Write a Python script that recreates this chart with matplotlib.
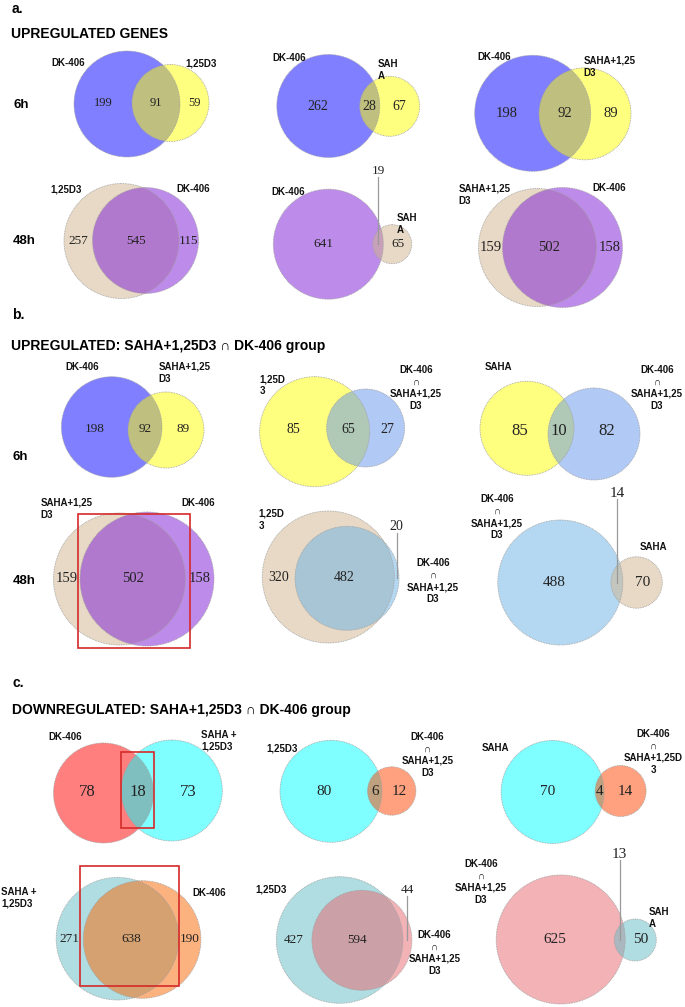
import matplotlib
matplotlib.use("Agg")
import matplotlib.pyplot as plt
from matplotlib.patches import Circle, Rectangle

# ---------------- data ----------------
panel_letters = ["a.", "b.", "c."]
panel_titles = ["UPREGULATED GENES",
                "UPREGULATED: SAHA+1,25D3 \u2229 DK-406 group",
                "DOWNREGULATED: SAHA+1,25D3 \u2229 DK-406 group"]
row_labels = ["6h", "48h"]

# set names (left, right) for each diagram, as printed
a_6h_sets = [("DK-406", "1,25D3"), ("DK-406", "SAH\nA"), ("DK-406", "SAHA+1,25\nD3")]
a_48h_sets = [("1,25D3", "DK-406"), ("DK-406", "SAH\nA"), ("SAHA+1,25\nD3", "DK-406")]
b_6h_sets = [("DK-406", "SAHA+1,25\nD3"), ("1,25D\n3", "DK-406\n\u2229\nSAHA+1,25\nD3"),
             ("SAHA", "DK-406\n\u2229\nSAHA+1,25\nD3")]
b_48h_sets = [("SAHA+1,25\nD3", "DK-406"), ("1,25D\n3", "DK-406\n\u2229\nSAHA+1,25\nD3"),
              ("DK-406\n\u2229\nSAHA+1,25\nD3", "SAHA")]
c_top_sets = [("DK-406", "SAHA +\n1,25D3"), ("1,25D3", "DK-406\n\u2229\nSAHA+1,25\nD3"),
              ("SAHA", "DK-406\n\u2229\nSAHA+1,25D\n3")]
c_bot_sets = [("SAHA +\n1,25D3", "DK-406"), ("1,25D3", "DK-406\n\u2229\nSAHA+1,25\nD3"),
              ("DK-406\n\u2229\nSAHA+1,25\nD3", "SAH\nA")]

# counts: (left only, overlap, right only)
a_6h_counts = [(199, 91, 59), (262, 28, 67), (198, 92, 89)]
a_48h_counts = [(257, 545, 115), (641, 19, 65), (159, 502, 158)]
b_6h_counts = [(198, 92, 89), (85, 65, 27), (85, 10, 82)]
b_48h_counts = [(159, 502, 158), (320, 482, 20), (488, 14, 70)]
c_top_counts = [(78, 18, 73), (80, 6, 12), (70, 4, 14)]
c_bot_counts = [(271, 638, 190), (427, 594, 44), (625, 13, 50)]

# ---------------- layout / style ----------------
BLUE = (0, 0, 1); YEL = (1, 1, 0); PURP = (0.49, 0.1, 0.84); TAN = (0.82, 0.71, 0.55)
CORN = (0.39, 0.58, 0.93); SKY = (0.42, 0.7, 0.9); CYAN = (0, 1, 1); RED = (1, 0, 0)
ORED = (1, 0.27, 0); TEAL = (0.39, 0.74, 0.78); ORNG = (0.98, 0.4, 0); PINK = (0.9, 0.4, 0.43)

# per diagram: left circle, right circle, colors, number size, label positions,
# optional leader for a small region and optional nudges of the count texts
layout = {
    "a6": [
        dict(L=(127, 104, 53), R=(170.5, 103, 38.5), col=(BLUE, YEL), fs=9,
             lab=[(68, 63, "center"), (201, 64, "center")]),
        dict(L=(328.3, 106, 51.5), R=(389.7, 106.3, 30), col=(BLUE, YEL), fs=10,
             lab=[(289, 58, "center"), (377.3, 70.3, "left")]),
        dict(L=(532.7, 113.3, 58), R=(585, 113.8, 46), col=(BLUE, YEL), fs=10.5,
             lab=[(493.7, 57.3, "center"), (583.3, 66.7, "left")]),
    ],
    "a48": [
        dict(L=(121.5, 241, 57.5), R=(145.5, 240.5, 53), col=(TAN, PURP), fs=9.5,
             lab=[(66.3, 189.3, "center"), (193.3, 189.3, "center")]),
        dict(L=(328.3, 244.2, 55), R=(392.2, 244.2, 19.5), col=(PURP, TAN), fs=9.5,
             lab=[(288, 191.7, "center"), (396.7, 224.2, "left")], leader=(1, 170.7)),
        dict(L=(537.5, 247.5, 59), R=(562.5, 247.5, 60), col=(TAN, PURP), fs=10.5,
             lab=[(458.3, 194.5, "left"), (609.2, 188.3, "center")]),
    ],
    "b6": [
        dict(L=(111.7, 427, 50.3), R=(166, 430, 38), col=(BLUE, YEL), fs=9.5,
             lab=[(82, 367.3, "center"), (158.8, 372.8, "left")]),
        dict(L=(314.6, 431.7, 55), R=(365.6, 428, 39), col=(YEL, CORN), fs=10,
             lab=[(259.6, 385.5, "left"), (415.8, 388, "center")]),
        dict(L=(527, 428.3, 47), R=(594, 434, 46), col=(YEL, CORN), fs=12,
             lab=[(484.6, 367.3, "left"), (657, 388, "center")], dx=(6, -2, 0)),
    ],
    "b48": [
        dict(L=(119.5, 579, 66), R=(147, 579, 67), col=(TAN, PURP), fs=10.5,
             lab=[(40.4, 508.8, "left"), (198.2, 502.7, "center")]),
        dict(L=(328.3, 577, 66), R=(347, 578.3, 52), col=(TAN, SKY), fs=10,
             lab=[(258.8, 520, "left"), (433, 581, "center")], leader=(2, 526.7)),
        dict(L=(560.3, 582.5, 62.5), R=(636.6, 582.5, 25.7), col=(SKY, TAN), fs=11,
             lab=[(497, 517, "center"), (653.5, 547.3, "center")], leader=(1, 493.3)),
    ],
    "c1": [
        dict(L=(103.5, 793, 50), R=(171.8, 790.5, 50.5), col=(RED, CYAN), fs=12,
             lab=[(65, 736.7, "center"), (200.9, 740.5, "left")]),
        dict(L=(331, 791.3, 51), R=(391.7, 791, 24.2), col=(CYAN, ORED), fs=11,
             lab=[(266.7, 748.3, "left"), (427.6, 754.7, "center")]),
        dict(L=(552.6, 792, 51.5), R=(620.6, 791, 25.5), col=(CYAN, ORED), fs=11,
             lab=[(481.6, 748.3, "left"), (653.5, 752, "center")]),
    ],
    "c2": [
        dict(L=(117.5, 938.7, 61.3), R=(142.1, 939.5, 58.8), col=(TEAL, ORNG), fs=9.5,
             lab=[(1, 898, "left"), (209.2, 892.7, "center")]),
        dict(L=(339.6, 940, 63.3), R=(361.9, 940.3, 50), col=(TEAL, PINK), fs=9.5,
             lab=[(255.3, 890, "left"), (434.2, 952.5, "center")], leader=(2, 890)),
        dict(L=(560.7, 939.5, 64.5), R=(635.3, 940, 21), col=(PINK, TEAL), fs=11,
             lab=[(481.1, 881.7, "center"), (649, 918.3, "left")], leader=(1, 854.3)),
    ],
}
red_boxes = [(78, 514.3, 112, 134), (121.5, 751.7, 33, 76.6), (80.3, 865.7, 98.7, 120.3)]

SANS = ["Liberation Sans", "DejaVu Sans"]
SERIF = ["Liberation Serif", "DejaVu Serif"]

fig = plt.figure(figsize=(6.85, 10.07), dpi=100)
ax = fig.add_axes([0, 0, 1, 1])
ax.set_xlim(0, 685)
ax.set_ylim(1007, 0)
ax.axis("off")


def venn(spec, names, counts):
    L, R = spec["L"], spec["R"]
    for (x, y, r), c in zip((L, R), spec["col"]):
        ax.add_patch(Circle((x, y), r, facecolor=(*c, 0.5), edgecolor="none", zorder=2))
        ax.add_patch(Circle((x, y), r, facecolor="none", edgecolor="#a0a0a0",
                            lw=0.6, ls=(0, (1, 1)), zorder=3))
    (lx, ly, lr), (rx, ry, rr) = L, R
    xs = [(lx - lr + rx - rr) / 2, (rx - rr + lx + lr) / 2, (lx + lr + rx + rr) / 2]
    dx = spec.get("dx", (0, 0, 0))
    xs = [x + d for x, d in zip(xs, dx)]
    yc = (ly + ry) / 2
    leader = spec.get("leader")
    for i, (x, v) in enumerate(zip(xs, counts)):
        if leader is not None and leader[0] == i:
            ty = leader[1]
            ax.text(x, ty, str(v), family=SERIF, fontsize=spec["fs"], ha="center",
                    va="center", color="#222222", zorder=5)
            ax.plot([x, x], [ty + 6, yc], color="#9a9a9a", lw=0.9, zorder=4)
        else:
            ax.text(x, yc, str(v), family=SERIF, fontsize=spec["fs"], ha="center",
                    va="center", color="#222222", zorder=5)
    for (x, y, ha), name in zip(spec["lab"], names):
        ax.text(x, y, name, family=SANS, fontsize=7, fontweight="bold", ha=ha,
                va="center", multialignment=ha if ha != "center" else "center",
                linespacing=1.25, color="#111111", zorder=5)


groups = [("a6", a_6h_sets, a_6h_counts), ("a48", a_48h_sets, a_48h_counts),
          ("b6", b_6h_sets, b_6h_counts), ("b48", b_48h_sets, b_48h_counts),
          ("c1", c_top_sets, c_top_counts), ("c2", c_bot_sets, c_bot_counts)]
for key, sets, counts in groups:
    for spec, names, cnt in zip(layout[key], sets, counts):
        venn(spec, names, cnt)

for (x, y, w, h) in red_boxes:
    ax.add_patch(Rectangle((x, y), w, h, fill=False, edgecolor="#d42a2a", lw=1.2, zorder=6))

# panel letters and titles
for (x, y), t in zip([(12, 9), (12, 315), (13, 683)], panel_letters):
    ax.text(x, y, t, family=SANS, fontsize=10, fontweight="bold", ha="left", va="center")
for (x, y), t in zip([(11, 34), (11.5, 346), (12, 710)], panel_titles):
    ax.text(x, y, t, family=SANS, fontsize=10, fontweight="bold", ha="left", va="center")

# row labels
for (x, y), t in zip([(14, 105), (13, 241), (13, 457), (13, 581)],
                     row_labels + row_labels):
    ax.text(x, y, t, family=SANS, fontsize=9.5, fontweight="bold", ha="left", va="center")

fig.savefig("out.png", dpi=100)
